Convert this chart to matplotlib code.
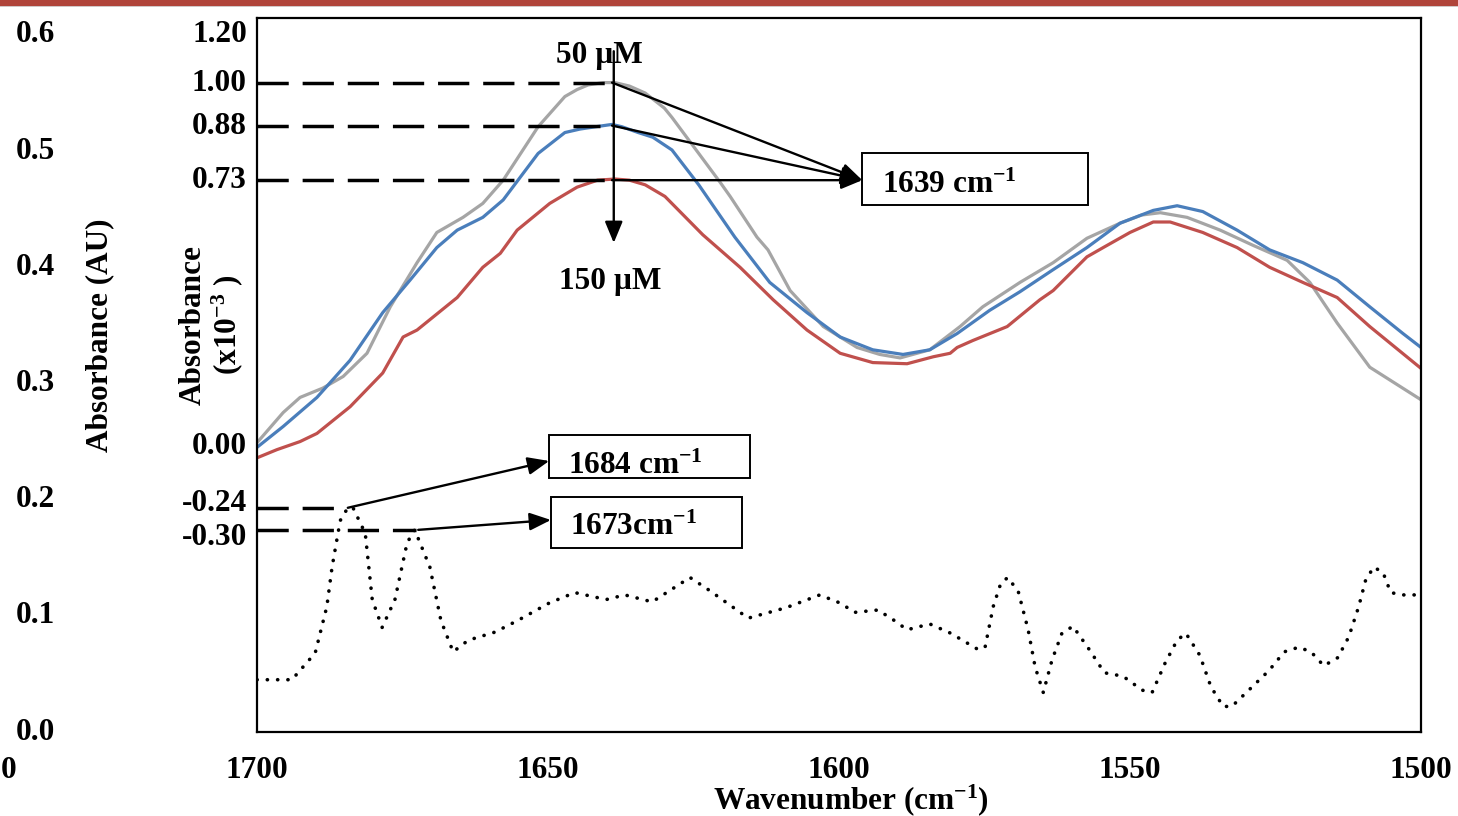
import matplotlib
matplotlib.use("Agg")
import matplotlib.pyplot as plt
import matplotlib.transforms as mtransforms
from matplotlib.patches import Rectangle

plt.rcParams.update({
    "font.family": ["Liberation Serif", "DejaVu Serif"],
    "font.weight": "bold",
    "mathtext.fontset": "custom",
    "mathtext.rm": "Liberation Serif:bold",
    "mathtext.it": "Liberation Serif:bold",
    "mathtext.bf": "Liberation Serif:bold",
})

# --- data: wavenumber (cm-1) vs absorbance (AU) ---
wn_50 = [1700.0, 1695.5, 1692.6, 1688.7, 1685.2, 1681.1, 1677.1, 1672.5, 1669.1, 1664.6,
         1661.2, 1657.7, 1651.7, 1647.1, 1645.0, 1643.1, 1640.5, 1638.5, 1636.0, 1633.3,
         1630.0, 1628.7, 1624.1, 1620.4, 1618.7, 1614.1, 1612.2, 1608.4, 1602.7, 1596.9,
         1593.0, 1589.5, 1584.4, 1579.2, 1575.3, 1568.9, 1563.2, 1557.4, 1551.7, 1548.0,
         1544.8, 1540.2, 1534.5, 1528.9, 1523.0, 1519.1, 1514.4, 1508.8, 1500.0]
abs_50 = [0.249, 0.275, 0.288, 0.296, 0.306, 0.326, 0.366, 0.404, 0.430, 0.443,
          0.455, 0.475, 0.521, 0.547, 0.553, 0.557, 0.559, 0.559, 0.556, 0.550,
          0.537, 0.529, 0.498, 0.473, 0.461, 0.426, 0.415, 0.380, 0.349, 0.331,
          0.325, 0.322, 0.329, 0.349, 0.366, 0.387, 0.404, 0.425, 0.438, 0.445,
          0.447, 0.443, 0.432, 0.419, 0.406, 0.387, 0.352, 0.314, 0.286]

wn_100 = [1700.0, 1695.5, 1689.7, 1684.0, 1678.4, 1673.7, 1669.1, 1665.6, 1661.2, 1657.7,
          1651.7, 1647.1, 1644.5, 1641.8, 1639.0, 1637.3, 1634.5, 1632.0, 1628.7, 1624.1,
          1617.9, 1611.9, 1605.5, 1599.8, 1594.2, 1589.0, 1584.4, 1579.7, 1574.1, 1568.9,
          1563.2, 1557.4, 1551.7, 1546.0, 1541.9, 1537.5, 1531.6, 1526.0, 1520.3, 1514.4,
          1508.8, 1503.1, 1500.0]
abs_100 = [0.245, 0.263, 0.288, 0.320, 0.361, 0.389, 0.417, 0.432, 0.443, 0.458,
           0.498, 0.516, 0.519, 0.521, 0.523, 0.521, 0.516, 0.512, 0.501, 0.471,
           0.426, 0.387, 0.361, 0.340, 0.329, 0.325, 0.329, 0.343, 0.363, 0.379,
           0.398, 0.417, 0.438, 0.449, 0.453, 0.448, 0.432, 0.415, 0.404, 0.389,
           0.366, 0.343, 0.331]

wn_150 = [1700.0, 1696.6, 1692.6, 1689.7, 1684.0, 1678.4, 1674.9, 1672.5, 1665.6, 1661.2,
          1658.2, 1655.3, 1649.7, 1645.0, 1641.5, 1638.5, 1636.0, 1633.3, 1629.9, 1623.4,
          1617.0, 1611.3, 1605.5, 1599.8, 1594.2, 1588.3, 1583.8, 1580.9, 1579.7, 1577.0,
          1571.1, 1565.5, 1563.2, 1557.4, 1554.6, 1550.0, 1546.0, 1543.1, 1537.5, 1531.6,
          1526.0, 1520.3, 1514.4, 1508.8, 1500.0]
abs_150 = [0.236, 0.243, 0.250, 0.257, 0.280, 0.309, 0.340, 0.346, 0.374, 0.400,
           0.412, 0.432, 0.455, 0.469, 0.475, 0.476, 0.475, 0.471, 0.461, 0.428,
           0.400, 0.372, 0.346, 0.326, 0.318, 0.317, 0.323, 0.326, 0.331, 0.337,
           0.349, 0.372, 0.380, 0.409, 0.417, 0.430, 0.439, 0.439, 0.430, 0.417,
           0.400, 0.387, 0.374, 0.349, 0.313]

# second derivative trace (dotted)
wn_d2 = [1700.0, 1694.0, 1690.0, 1688.0, 1687.1, 1685.7, 1684.4, 1683.5, 1681.4, 1680.2,
         1678.5, 1676.3, 1674.2, 1672.9, 1670.3, 1668.4, 1666.3, 1663.7, 1659.1, 1655.2,
         1649.8, 1645.4, 1640.0, 1636.8, 1632.1, 1625.6, 1622.3, 1615.6, 1609.1, 1603.3,
         1599.8, 1597.3, 1593.3, 1590.5, 1588.3, 1584.4, 1580.8, 1576.1, 1574.9, 1573.5,
         1572.2, 1571.0, 1569.2, 1567.5, 1566.3, 1564.9, 1563.4, 1561.7, 1559.8, 1557.0,
         1554.4, 1551.2, 1547.9, 1546.2, 1544.0, 1541.9, 1540.4, 1538.0, 1536.1, 1534.0,
         1532.5, 1529.6, 1526.1, 1523.5, 1521.0, 1518.9, 1516.7, 1514.3, 1512.4, 1510.7,
         1509.5, 1508.1, 1506.5, 1505.2, 1503.1, 1500.0]
d2 = [0.045, 0.045, 0.068, 0.108, 0.142, 0.182, 0.193, 0.193, 0.171, 0.114,
      0.090, 0.114, 0.163, 0.174, 0.142, 0.096, 0.069, 0.079, 0.086, 0.096,
      0.111, 0.120, 0.114, 0.118, 0.112, 0.133, 0.122, 0.098, 0.107, 0.118,
      0.111, 0.103, 0.105, 0.096, 0.088, 0.093, 0.085, 0.071, 0.073, 0.108,
      0.128, 0.133, 0.121, 0.088, 0.056, 0.034, 0.062, 0.085, 0.091, 0.071,
      0.051, 0.048, 0.036, 0.034, 0.059, 0.079, 0.085, 0.066, 0.039, 0.022,
      0.022, 0.036, 0.053, 0.069, 0.073, 0.069, 0.057, 0.064, 0.082, 0.108,
      0.131, 0.142, 0.137, 0.120, 0.118, 0.118]

au_ticks = [0.0, 0.1, 0.2, 0.3, 0.4, 0.5, 0.6]
wn_ticks = [1700, 1650, 1600, 1550, 1500]
# peak levels marked by dashed guides (AU): 50, 100, 150 uM at 1639; 1684; 1673
peak_levels = [0.559, 0.522, 0.475, 0.193, 0.174]
inner_labels = ["1.20", "1.00", "0.88", "0.73", "0.00", "-0.24", "-0.30"]
inner_label_y = [0.600, 0.558, 0.521, 0.475, 0.246, 0.197, 0.167]

W, H = 1458, 816
fig = plt.figure(figsize=(W / 100, H / 100), dpi=100)
ax = fig.add_axes([257 / W, 84 / H, 1164 / W, 714 / H])
ax.set_xlim(1700, 1500)
ax.set_ylim(0.0, 0.6146)
ax.set_xticks([])
ax.set_yticks([])
for s in ax.spines.values():
    s.set_linewidth(1.6)

line_kw = dict(lw=2.3, solid_joinstyle="round", solid_capstyle="round")
ax.plot(wn_50, abs_50, color="#A5A5A5", **line_kw)
ax.plot(wn_100, abs_100, color="#4A7EBB", **line_kw)
ax.plot(wn_150, abs_150, color="#C0504D", **line_kw)
ax.plot(wn_d2, d2, color="black", lw=2.6, linestyle=(0, (0.05, 2.8)),
        dash_capstyle="round")

# dashed guide lines to the peaks
dash = dict(color="black", lw=2.5, linestyle=(0, (9.0, 4.0)))
for y, x_end in zip(peak_levels, [1639, 1641, 1639, 1686.5, 1672.6]):
    ax.plot([1700, x_end], [y, y], **dash)

arrow = dict(arrowstyle="-|>,head_length=0.65,head_width=0.27", color="black",
             lw=1.7, shrinkA=0, shrinkB=0, mutation_scale=20)
box_hit = (1596.0, peak_levels[2])
for y in peak_levels[:3]:
    ax.annotate("", xy=box_hit, xytext=(1639, y), arrowprops=arrow)
ax.annotate("", xy=(1638.7, 0.421), xytext=(1638.7, 0.586), arrowprops=arrow)
ax.annotate("", xy=(1649.8, 0.2333), xytext=(1684.4, peak_levels[3]), arrowprops=arrow)
ax.annotate("", xy=(1649.5, 0.1825), xytext=(1672.3, peak_levels[4]), arrowprops=arrow)

# annotation boxes
for x0, x1, y0, y1 in [(1596.0, 1557.2, 0.454, 0.498),
                       (1649.8, 1615.3, 0.2186, 0.2557),
                       (1649.5, 1616.7, 0.1584, 0.2023)]:
    ax.add_patch(Rectangle((x0, y0), x1 - x0, y1 - y0, fill=False, lw=1.4,
                           edgecolor="black", zorder=5))

fs = 22.5
ax.text(1592.6, 0.4705, "1639 cm$^{-1}$", fontsize=fs, va="center", ha="left")
ax.text(1646.6, 0.2290, "1684 cm$^{-1}$", fontsize=fs, va="center", ha="left")
ax.text(1646.2, 0.1760, "1673cm$^{-1}$", fontsize=fs, va="center", ha="left")
ax.text(1641.2, 0.582, "50 µM", fontsize=fs, ha="center", va="center")
ax.text(1639.3, 0.388, "150 µM", fontsize=fs, ha="center", va="center")

# tick labels
fig_y = mtransforms.blended_transform_factory(fig.transFigure, ax.transData)
fig_x = mtransforms.blended_transform_factory(ax.transData, fig.transFigure)
for v in au_ticks:
    fig.text(35 / W, v, f"{v:.1f}", transform=fig_y, fontsize=fs,
             ha="center", va="center")
for lab, v in zip(inner_labels, inner_label_y):
    fig.text(247 / W, v, lab, transform=fig_y, fontsize=fs, ha="right", va="center")
for v in wn_ticks:
    fig.text(v, 1 - 770 / H, str(v), transform=fig_x, fontsize=fs,
             ha="center", va="center")
fig.text(0.5 / W, 1 - 770 / H, "0", fontsize=fs, ha="left", va="center")

fig.text(851 / W, 1 - 800 / H, "Wavenumber (cm$^{-1}$)", fontsize=fs,
         ha="center", va="center")
fig.text(100 / W, 1 - 335 / H, "Absorbance (AU)", fontsize=fs, rotation=90,
         ha="center", va="center")
fig.text(212 / W, 1 - 325 / H, "Absorbance\n(x10$^{-3}$ )", fontsize=fs,
         rotation=90, ha="center", va="center", multialignment="center",
         linespacing=1.05)

# slide header strip
fig.patches.append(Rectangle((0, 1 - 5.5 / H), 1, 5.5 / H, transform=fig.transFigure,
                             facecolor="#B0443A", edgecolor="none"))
fig.patches.append(Rectangle((0, 1 - 7 / H), 1, 1.5 / H, transform=fig.transFigure,
                             facecolor="#D0C8C8", edgecolor="none"))

fig.savefig("out.png", dpi=100)
